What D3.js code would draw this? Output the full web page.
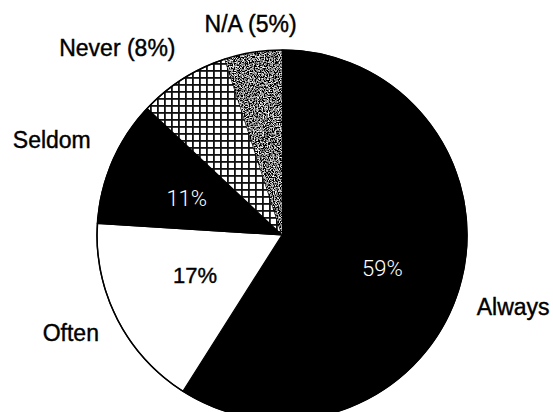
<!DOCTYPE html>
<html>
<head>
<meta charset="utf-8">
<script src="https://cdn.jsdelivr.net/npm/d3@7"></script>
<style>
  html, body { margin: 0; padding: 0; background: #fff; }
  svg { display: block; }
</style>
</head>
<body>
<svg id="chart" width="553" height="412"></svg>
<script>
// Survey answers, clockwise from 12 o'clock
const categories = ["Always", "Often", "Seldom", "Never", "N/A"];
const shares = [59, 17, 11, 8, 5];
// Outer label text per category
const outerLabels = ["Always", "Often", "Seldom", "Never (8%)", "N/A (5%)"];
// Inner percentage labels (only for the larger slices)
const innerLabels = ["59%", "17%", "11%", null, null];

const W = 553, H = 412;
const cx = 282, cy = 235, R = 185;

// label placement: angle offset (deg) from slice middle and distance from centre
const outerLayout = [
  { dAng: 1, r: 242 },
  { dAng: 2, r: 233 },
  { dAng: -1, r: 249 },
  { dAng: -9, r: 249 },
  { dAng: 0.5, r: 213 }
];
const innerLayout = [
  { dAng: 2.5, r: 106 },
  { dAng: 2, r: 96 },
  { dAng: -2.5, r: 102 }
];

const svg = d3.select("#chart");
const defs = svg.append("defs");

// cross-hatch grid for "Never"
const hatch = defs.append("pattern")
  .attr("id", "grid")
  .attr("patternUnits", "userSpaceOnUse")
  .attr("width", 7).attr("height", 7)
  .attr("x", 1).attr("y", 3);
hatch.append("rect").attr("width", 7).attr("height", 7).attr("fill", "#fff");
hatch.append("rect").attr("x", 0).attr("y", 0).attr("width", 1.8).attr("height", 7).attr("fill", "#111");
hatch.append("rect").attr("x", 0).attr("y", 0).attr("width", 7).attr("height", 1.8).attr("fill", "#111");

// stippled grey for "N/A"
const noise = defs.append("filter")
  .attr("id", "stipple")
  .attr("x", 0).attr("y", 0).attr("width", 1).attr("height", 1);
noise.append("feTurbulence")
  .attr("type", "fractalNoise")
  .attr("baseFrequency", 0.8)
  .attr("numOctaves", 3)
  .attr("seed", 7)
  .attr("result", "t");
noise.append("feColorMatrix")
  .attr("in", "t")
  .attr("type", "matrix")
  .attr("values", "2.4 2.4 0 0 -2.2  2.4 2.4 0 0 -2.2  2.4 2.4 0 0 -2.2  0 0 0 0 1")
  .attr("result", "g");
noise.append("feComposite")
  .attr("in", "g").attr("in2", "SourceGraphic").attr("operator", "in");

const fills = ["#000", "#fff", "#000", "url(#grid)", "#777"];

const pie = d3.pie().sort(null).value(d => d)(shares);
const arc = d3.arc().innerRadius(0).outerRadius(R);

const g = svg.append("g").attr("transform", `translate(${cx},${cy})`);

g.selectAll("path.slice")
  .data(pie)
  .join("path")
  .attr("class", "slice")
  .attr("d", arc)
  .attr("fill", (d, i) => fills[i])
  .attr("filter", (d, i) => categories[i] === "N/A" ? "url(#stipple)" : null)
  .attr("stroke", (d, i) => categories[i] === "N/A" ? "none" : "#000")
  .attr("stroke-width", 1.2)
  .attr("stroke-linejoin", "round");

// outer rim
g.append("circle").attr("r", R).attr("fill", "none").attr("stroke", "#000").attr("stroke-width", 1.5);

function polar(angRad, r) {
  return [Math.sin(angRad) * r, -Math.cos(angRad) * r];
}

// outer category labels
g.selectAll("text.outer")
  .data(pie)
  .join("text")
  .attr("class", "outer")
  .each(function (d, i) {
    const mid = (d.startAngle + d.endAngle) / 2 + outerLayout[i].dAng * Math.PI / 180;
    const [x, y] = polar(mid, outerLayout[i].r);
    d3.select(this).attr("x", x).attr("y", y);
  })
  .attr("text-anchor", "middle")
  .attr("dominant-baseline", "central")
  .attr("font-family", "'Liberation Sans', Arial, sans-serif")
  .attr("font-size", 23)
  .attr("fill", "#000")
  .attr("stroke", "#000")
  .attr("stroke-width", 0.4)
  .text((d, i) => outerLabels[i]);

// inner percentage labels
g.selectAll("text.inner")
  .data(pie.filter((d, i) => innerLabels[i]))
  .join("text")
  .attr("class", "inner")
  .each(function (d) {
    const i = d.index;
    const mid = (d.startAngle + d.endAngle) / 2 + innerLayout[i].dAng * Math.PI / 180;
    const [x, y] = polar(mid, innerLayout[i].r);
    d3.select(this).attr("x", x).attr("y", y);
  })
  .attr("text-anchor", "middle")
  .attr("dominant-baseline", "central")
  .attr("font-family", d => d.index === 1 ? "'Liberation Sans', Arial, sans-serif" : "Roboto, 'Open Sans', sans-serif")
  .attr("font-weight", d => d.index === 1 ? 400 : 300)
  .attr("font-size", 22)
  .attr("fill", d => d.index === 1 ? "#000" : "#fff")
  .attr("stroke", d => d.index === 1 ? "#000" : "none")
  .attr("stroke-width", 0.4)
  .text(d => innerLabels[d.index]);
</script>
</body>
</html>
